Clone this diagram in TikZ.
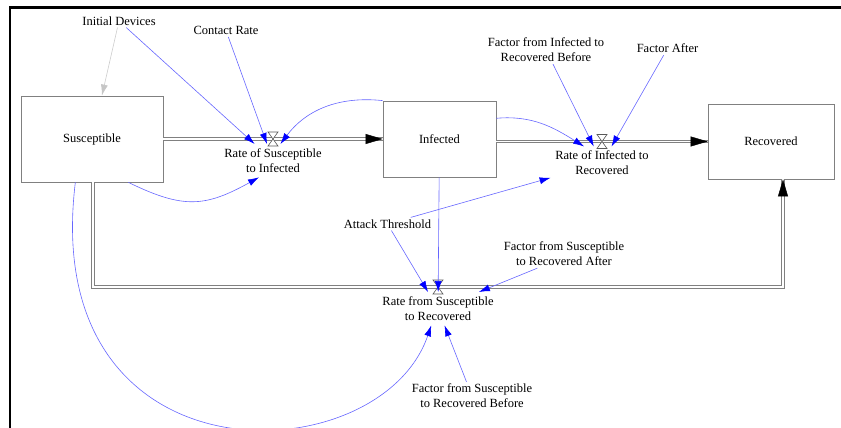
\documentclass[tikz,border=0pt]{standalone}
\usepackage{fontspec}
\setmainfont{Liberation Serif}
\usetikzlibrary{arrows.meta,positioning}

% hourglass valve sitting on a flow pipe
\tikzset{
  valve/.pic={
    \draw[gray!70!black, fill=white, line width=0.6pt]
      (-5,7) -- (5,7) -- (-5,-7) -- (5,-7) -- cycle;
  }
}

\begin{document}
\begin{tikzpicture}[
    x=1pt, y=1pt,
    every node/.style={font=\fontsize{12.5}{15}\selectfont, align=center},
    stock/.style={draw=gray, line width=0.8pt, fill=white},
    rate/.style={inner sep=4.5pt},
    aux/.style={inner sep=2pt},
    pipe/.style={draw=gray, line width=0.7pt, double=white, double distance=1.8pt},
    pipetip/.style={tips, -{Triangle[length=17pt, width=10pt, color=black]}},
    link/.style={draw=blue!60, line width=0.6pt, -{Latex[length=11pt, width=7pt, color=blue]}},
    initlink/.style={draw=gray!40, line width=0.6pt, -{Latex[length=11pt, width=7pt, color=gray!45]}}
]
\useasboundingbox (0,0) rectangle (841,428);

% frame edges
\draw[line width=2.5pt] (10,0) -- (10,420.5) -- (841,420.5);

% Stocks
\node[stock, minimum width=142pt, minimum height=86pt] (sus) at (92,289) {Susceptible};
\node[stock, minimum width=113pt, minimum height=76pt] (inf) at (439.5,289) {Infected};
\node[stock, minimum width=126pt, minimum height=75pt] (rec) at (771,286.5) {Recovered};

% Valves
\coordinate (vSI) at (273,289);
\coordinate (vIR) at (602,286.5);
\coordinate (vSR) at (438,141);

% Flows: double pipe first, then the head on top
\draw[pipe] (sus.east) -- (inf.west);
\draw[pipe] (inf.east |- vIR) -- (rec.west);
\draw[pipe] ([xshift=1pt]sus.south) |- (vSR) -| ([xshift=12pt]rec.south);
\path[pipetip] (sus.east) -- (inf.west);
\path[pipetip] (inf.east |- vIR) -- (rec.west);
\path[pipetip] (vSR) -| ([xshift=12pt]rec.south);
\pic at (vSI) {valve};
\pic at (vIR) {valve};
\pic at (vSR) {valve};

% Rates
\node[rate, below=5pt of vSI] (rSI) {Rate of Susceptible\\to Infected};
\node[rate, below=5pt of vIR] (rIR) {Rate of Infected to\\Recovered};
\node[rate, below=5pt of vSR] (rSR) {Rate from Susceptible\\to Recovered};

% Auxiliaries
\node[aux] (initDev) at (119,407) {Initial Devices};
\node[aux] (contact) at (226,397.5) {Contact Rate};
\node[aux] (fIRb) at (546,378) {Factor from Infected to\\Recovered Before};
\node[aux] (fAfter) at (667.5,379.5) {Factor After};
\node[aux] (attack) at (387.5,204) {Attack Threshold};
\node[aux] (fSRa) at (564,174) {Factor from Susceptible\\to Recovered After};
\node[aux] (fSRb) at (472,32) {Factor from Susceptible\\to Recovered Before};

% Links
\draw[initlink] (initDev) -- (sus);
\draw[link] (initDev) -- (rSI);
\draw[link] (contact) -- (rSI);
\draw[link] (inf.north west) to[out=174, in=53] (rSI.66);
\draw[link] (sus.-50) to[out=-26, in=209, looseness=1.2] (rSI.230);
\draw[link] (inf.20) to[out=5, in=148] (rIR.137);
\draw[link] (fIRb) -- (rIR);
\draw[link] (fAfter) -- (rIR);
\draw[link] (attack) -- (rIR);
\draw[link] (attack) -- (rSR);
\draw[link] (inf) -- (rSR);
\draw[link] (fSRa.208) -- (rSR);
\draw[link] (fSRb) -- (rSR);
\draw[link] (sus.249) .. controls (38,-60) and (380,-48) .. (rSR.248);

\end{tikzpicture}
\end{document}
